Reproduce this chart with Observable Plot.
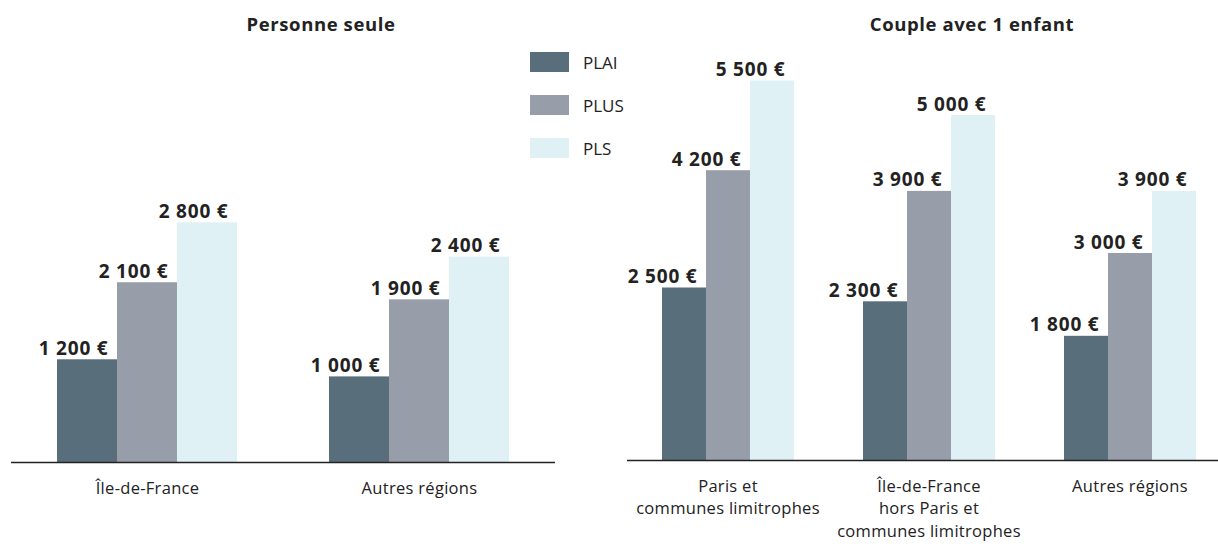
<!DOCTYPE html>
<html>
<head>
<meta charset="utf-8">
<script src="https://cdn.jsdelivr.net/npm/d3@7"></script>
<script src="https://cdn.jsdelivr.net/npm/@observablehq/plot@0.6"></script>
<style>
  html, body { margin: 0; padding: 0; background: #fff; overflow: hidden; }
  #root { position: relative; width: 1218px; height: 544px; overflow: hidden; font-family: "Open Sans", sans-serif; color: #222; }
  .panel { position: absolute; top: 0; }
  .title { position: absolute; top: 11px; font-size: 18.5px; font-weight: 700; letter-spacing: 0.6px; transform: translateX(-50%); white-space: nowrap; }
  .legend { position: absolute; left: 530px; top: 52px; }
  .legend .row { display: flex; align-items: center; height: 20px; margin-bottom: 23px; }
  .legend .sw { width: 39px; height: 20px; margin-right: 14px; }
  .legend .lab { font-size: 17px; }
  svg.plot { max-width: none !important; overflow: visible; }
  #root svg g[aria-label="text"] text { letter-spacing: 0.8px; }
  #root svg g[aria-label="fx-axis tick label"] text { letter-spacing: 0.3px; }
</style>
</head>
<body>
<div id="root"></div>
<script>
// ---- data ----
const seriesNames = ["PLAI", "PLUS", "PLS"];
const seriesColors = ["#596e7b", "#979ea9", "#e0f1f5"];

const seuleTitle = "Personne seule";
const seuleRegions = ["Île-de-France", "Autres régions"];
const seulePLAI = [1200, 1000];
const seulePLUS = [2100, 1900];
const seulePLS = [2800, 2400];

const coupleTitle = "Couple avec 1 enfant";
const coupleRegions = ["Paris et\ncommunes limitrophes", "Île-de-France\nhors Paris et\ncommunes limitrophes", "Autres régions"];
const couplePLAI = [2500, 2300, 1800];
const couplePLUS = [4200, 3900, 3000];
const couplePLS = [5500, 5000, 3900];

// ---- helpers ----
const fmt = v => String(v).replace(/\B(?=(\d{3})+(?!\d))/g, " ") + " €";
function rows(regions, a, b, c) {
  const out = [];
  regions.forEach((r, i) => {
    [a, b, c].forEach((arr, j) => out.push({region: r, series: seriesNames[j], value: arr[i]}));
  });
  return out;
}

function panel({data, regions, width, height, marginLeft, marginTop, marginBottom, yMax, labelDx}) {
  return Plot.plot({
    width, height, marginLeft, marginRight: 0, marginTop, marginBottom,
    style: {fontFamily: "Open Sans, sans-serif", fontSize: "16.5px", color: "#222", background: "transparent", overflow: "visible"},
    fx: {domain: regions, padding: 0, label: null, axis: null},
    x: {domain: seriesNames, paddingInner: 0, paddingOuter: 0.745, axis: null},
    y: {domain: [0, yMax], axis: null},
    color: {domain: seriesNames, range: seriesColors},
    marks: [
      Plot.barY(data, {fx: "region", x: "series", y: "value", fill: "series", inset: 0}),
      Plot.ruleY([0], {stroke: "#222", strokeWidth: 1.6}),
      Plot.text(data, {fx: "region", x: "series", y: "value", text: d => fmt(d.value),
        textAnchor: "end", lineAnchor: "bottom", dx: labelDx, dy: -5,
        fontWeight: "bold", fontSize: 19, fill: "#222"}),
      Plot.axisFx({anchor: "bottom", tickSize: 0, tickPadding: 15, fontSize: 16.5, lineHeight: 1.37, label: null, fill: "#222"})
    ]
  });
}

const root = document.getElementById("root");

function place(node, left, cls) {
  const div = document.createElement("div");
  div.className = cls;
  div.style.left = left + "px";
  div.appendChild(node);
  root.appendChild(div);
  return div;
}

// left panel
const leftPlot = panel({
  data: rows(seuleRegions, seulePLAI, seulePLUS, seulePLS),
  regions: seuleRegions,
  width: 555, height: 544, marginLeft: 10, marginTop: 34, marginBottom: 82,
  yMax: 5000, labelDx: 21
});
place(leftPlot, 0, "panel").style.width = "555px";

// right panel
const rightPlot = panel({
  data: rows(coupleRegions, couplePLAI, couplePLUS, couplePLS),
  regions: coupleRegions,
  width: 603, height: 544, marginLeft: 0, marginTop: 46, marginBottom: 84,
  yMax: 6000, labelDx: 13
});
place(rightPlot, 627, "panel").style.width = "603px";

// titles
function addTitle(text, cx) {
  const t = document.createElement("div");
  t.className = "title";
  t.style.left = cx + "px";
  t.textContent = text;
  root.appendChild(t);
}
addTitle(seuleTitle, 321);
addTitle(coupleTitle, 972);

// legend
const leg = document.createElement("div");
leg.className = "legend";
seriesNames.forEach((s, i) => {
  const row = document.createElement("div");
  row.className = "row";
  const sw = document.createElement("div");
  sw.className = "sw";
  sw.style.background = seriesColors[i];
  const lab = document.createElement("div");
  lab.className = "lab";
  lab.textContent = s;
  row.appendChild(sw); row.appendChild(lab);
  leg.appendChild(row);
});
root.appendChild(leg);
</script>
</body>
</html>
